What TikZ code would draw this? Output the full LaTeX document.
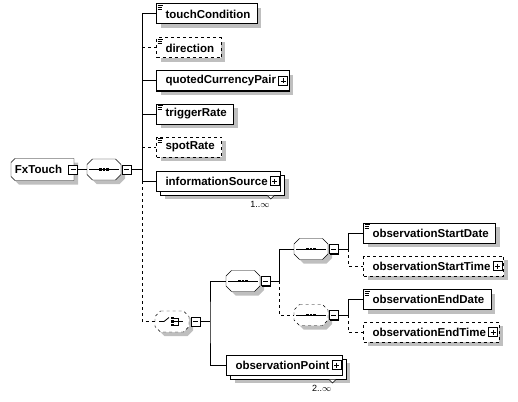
\documentclass[tikz,border=0pt]{standalone}
\usepackage{fontspec}
\setmainfont{Liberation Sans}
\usetikzlibrary{positioning,shadows,backgrounds}

\tikzset{
  dropshade/.style={drop shadow={shadow xshift=4pt, shadow yshift=-4pt, fill=black!25, opacity=1}},
  elembox/.style={draw, fill=white, anchor=west, minimum height=20pt, inner xsep=0pt, inner ysep=0pt,
    font=\bfseries\fontsize{11.5}{12}\selectfont,
    execute at begin node=\hspace*{9pt}, execute at end node=\hspace*{7pt}},
  elem/.style={elembox, dropshade},
  multibox/.style={elembox, drop shadow={shadow xshift=8pt, shadow yshift=-8pt, fill=black!25, opacity=1},
    copy shadow={shadow xshift=4pt, shadow yshift=-4pt}},
  withplus/.style={execute at end node=\hspace*{6pt}},
  optional/.style={dashed},
  mult/.style={font=\fontsize{9}{10}\selectfont, inner sep=0pt},
  pmbox/.style={draw, fill=white, minimum size=9pt, inner sep=0pt, line width=0.8pt},
  minusbox/.style={pmbox, path picture={
      \draw ([xshift=2pt]path picture bounding box.west) -- ([xshift=-2pt]path picture bounding box.east);}},
  plusbox/.style={pmbox, path picture={
      \draw ([xshift=2pt]path picture bounding box.west) -- ([xshift=-2pt]path picture bounding box.east);
      \draw ([yshift=-2pt]path picture bounding box.north) -- ([yshift=2pt]path picture bounding box.south);}},
  compminus/.style={minusbox, drop shadow={shadow xshift=1pt, shadow yshift=-1pt, fill=black, opacity=1}},
  compositor/.style={rectangle, minimum width=33pt, minimum height=20pt, inner sep=0pt, anchor=west},
  typebox/.style={rectangle, anchor=west, minimum width=62pt, minimum height=21pt, inner sep=0pt,
    font=\bfseries\fontsize{11.5}{12}\selectfont}
}

% outline with cut corners: [options]{node}{left cut}{right cut}
\newcommand{\octa}[4][]{%
  \path[draw, fill=white, dropshade, #1]
    ([xshift=#3]#2.north west) -- ([xshift=-#4]#2.north east) -- ([yshift=-#4]#2.north east)
    -- ([yshift=#4]#2.south east) -- ([xshift=-#4]#2.south east) -- ([xshift=#3]#2.south west)
    -- ([yshift=#3]#2.south west) -- ([yshift=-#3]#2.north west) -- cycle;}
\newcommand{\seqmark}[1]{%
  \draw[line width=0.8pt] ([xshift=2pt]#1.west) -- ([xshift=-2pt]#1.east);
  \foreach \dx in {-3.6,0,3.6}
    \fill ([xshift=\dx pt]#1.center) +(-1.3pt,-1.3pt) rectangle +(1.3pt,1.3pt);}
\newcommand{\choicemark}[1]{%
  \draw[line width=0.8pt] ([xshift=-13pt]#1.center) -- ([xshift=-8pt]#1.center) -- ([shift={(-3pt,4pt)}]#1.center);
  \foreach \dy in {-3.5,0,3.5}
    \fill ([shift={(0.5pt,\dy pt)}]#1.center) +(-1.3pt,-1.3pt) rectangle +(1.3pt,1.3pt);
  \draw[line width=0.8pt] ([shift={(1pt,3.5pt)}]#1.center) -- ([shift={(6pt,3.5pt)}]#1.center)
    -- ([shift={(6pt,-3.5pt)}]#1.center) -- ([shift={(1pt,-3.5pt)}]#1.center)
    ([xshift=1pt]#1.center) -- ([xshift=11pt]#1.center);}
\newcommand{\docicon}[1]{%
  \draw[line width=0.6pt] ([shift={(1.5pt,-1.8pt)}]#1.north west) -- ++(5.5pt,0pt)
    ([shift={(1.5pt,-3.8pt)}]#1.north west) -- ++(4.5pt,0pt)
    ([shift={(1.5pt,-5.8pt)}]#1.north west) -- ++(4.5pt,0pt);}

\begin{document}
\begin{tikzpicture}[x=1pt, y=-1pt, line width=1pt]
  \useasboundingbox (0,0) rectangle (518,401);

  % root and its sequence
  \node[typebox] (fxtouch) at (11,169.5) {FxTouch\hspace*{8pt}};
  \node[minusbox] (fxminus) at ([xshift=-1pt]fxtouch.east) {};
  \node[compositor] (seqmain) at (87,169.5) {};
  \node[compminus, right=1pt of seqmain] (seqminus) {};
  \coordinate (mainbus) at (142,169.5);

  % children of the main sequence
  \node[elem] (touchcond) at (156,14) {touchCondition};
  \node[elem, optional] (direction) at (156,48) {direction};
  \node[elem, withplus] (quotedpair) at (156,81) {quotedCurrencyPair};
  \node[plusbox, left=1.5pt of quotedpair.east] (quotedplus) {};
  \node[elem] (triggerrate) at (156,114) {triggerRate};
  \node[elem, optional] (spotrate) at (156,147) {spotRate};
  \node[multibox, withplus] (infosource) at (156,181) {informationSource};
  \node[plusbox, left=1.5pt of infosource.east] (infoplus) {};
  \draw[fill=white, line width=0.6pt] ([shift={(-14pt,-4pt)}]infosource.south east) -- ++(3.5pt,-3.5pt) -- ++(3.5pt,3.5pt);
  \node[mult, anchor=north east] (infomult) at ([shift={(-11pt,-9pt)}]infosource.south east) {1..$\infty$};
  \foreach \n in {touchcond, direction, triggerrate, spotrate} {\docicon{\n}}

  % choice
  \node[compositor] (choice) at (155,321.5) {};
  \node[compminus, right=1.5pt of choice] (choiceminus) {};
  \coordinate (choicebus) at (210,321.5);

  \node[compositor] (seqobs) at (226,281) {};
  \node[compminus, right=1pt of seqobs] (seqobsminus) {};
  \coordinate (obsbus) at (279,281);

  \node[compositor] (seqstart) at (294,249) {};
  \node[compminus, right=1pt of seqstart] (seqstartminus) {};
  \coordinate (startbus) at (348,249);
  \node[compositor] (seqend) at (294,315) {};
  \node[compminus, right=1pt of seqend] (seqendminus) {};
  \coordinate (endbus) at (348,315);

  \node[elem] (startdate) at (363,233) {observationStartDate};
  \node[elem, optional, withplus] (starttime) at (363,266) {observationStartTime};
  \node[plusbox, left=1.5pt of starttime.east] (startplus) {};
  \node[elem] (enddate) at (363,299.5) {observationEndDate};
  \node[elem, optional, withplus] (endtime) at (363,332) {observationEndTime};
  \node[plusbox, left=1.5pt of endtime.east] (endplus) {};
  \foreach \n in {startdate, enddate} {\docicon{\n}}

  \node[multibox, withplus] (obspoint) at (226,365) {observationPoint};
  \node[plusbox, left=1.5pt of obspoint.east] (obsplus) {};
  \draw[fill=white, line width=0.6pt] ([shift={(-14pt,-4pt)}]obspoint.south east) -- ++(3.5pt,-3.5pt) -- ++(3.5pt,3.5pt);
  \node[mult, anchor=north east] (obsmult) at ([shift={(-11pt,-9pt)}]obspoint.south east) {2..$\infty$};

  % outlines behind the root and the compositors
  \begin{scope}[on background layer]
    \octa{fxtouch}{4pt}{0pt}
    \foreach \n in {seqmain, seqobs, seqstart} {\octa{\n}{5.5pt}{5.5pt} \seqmark{\n}}
    \octa[optional]{seqend}{5.5pt}{5.5pt} \seqmark{seqend}
    \octa[optional]{choice}{5.5pt}{5.5pt} \choicemark{choice}
  \end{scope}

  % connectors
  \draw (fxminus.east) -- (seqmain.west);
  \draw (seqminus.east) -- (mainbus);
  \draw (mainbus |- touchcond.west) -- (mainbus |- infosource.west);
  \draw[dashed] (mainbus |- infosource.west) -- (mainbus |- choice.west) -- (choice.west);
  \draw (mainbus |- touchcond.west) -- (touchcond.west);
  \draw[dashed] (mainbus |- direction.west) -- (direction.west);
  \draw (mainbus |- quotedpair.west) -- (quotedpair.west);
  \draw (mainbus |- triggerrate.west) -- (triggerrate.west);
  \draw[dashed] (mainbus |- spotrate.west) -- (spotrate.west);
  \draw (mainbus |- infosource.west) -- (infosource.west);

  \draw (choiceminus.east) -- (choicebus);
  \draw (seqobs.west) -| (choicebus) |- (obspoint.west);
  \draw (seqobsminus.east) -- (obsbus);
  \draw (obsbus) |- (seqstart.west);
  \draw[dashed] (obsbus) |- (seqend.west);

  \draw (seqstartminus.east) -- (startbus);
  \draw (startbus) |- (startdate.west);
  \draw[dashed] (startbus) |- (starttime.west);
  \draw (seqendminus.east) -- (endbus);
  \draw (endbus) |- (enddate.west);
  \draw[dashed] (endbus) |- (endtime.west);
\end{tikzpicture}
\end{document}
